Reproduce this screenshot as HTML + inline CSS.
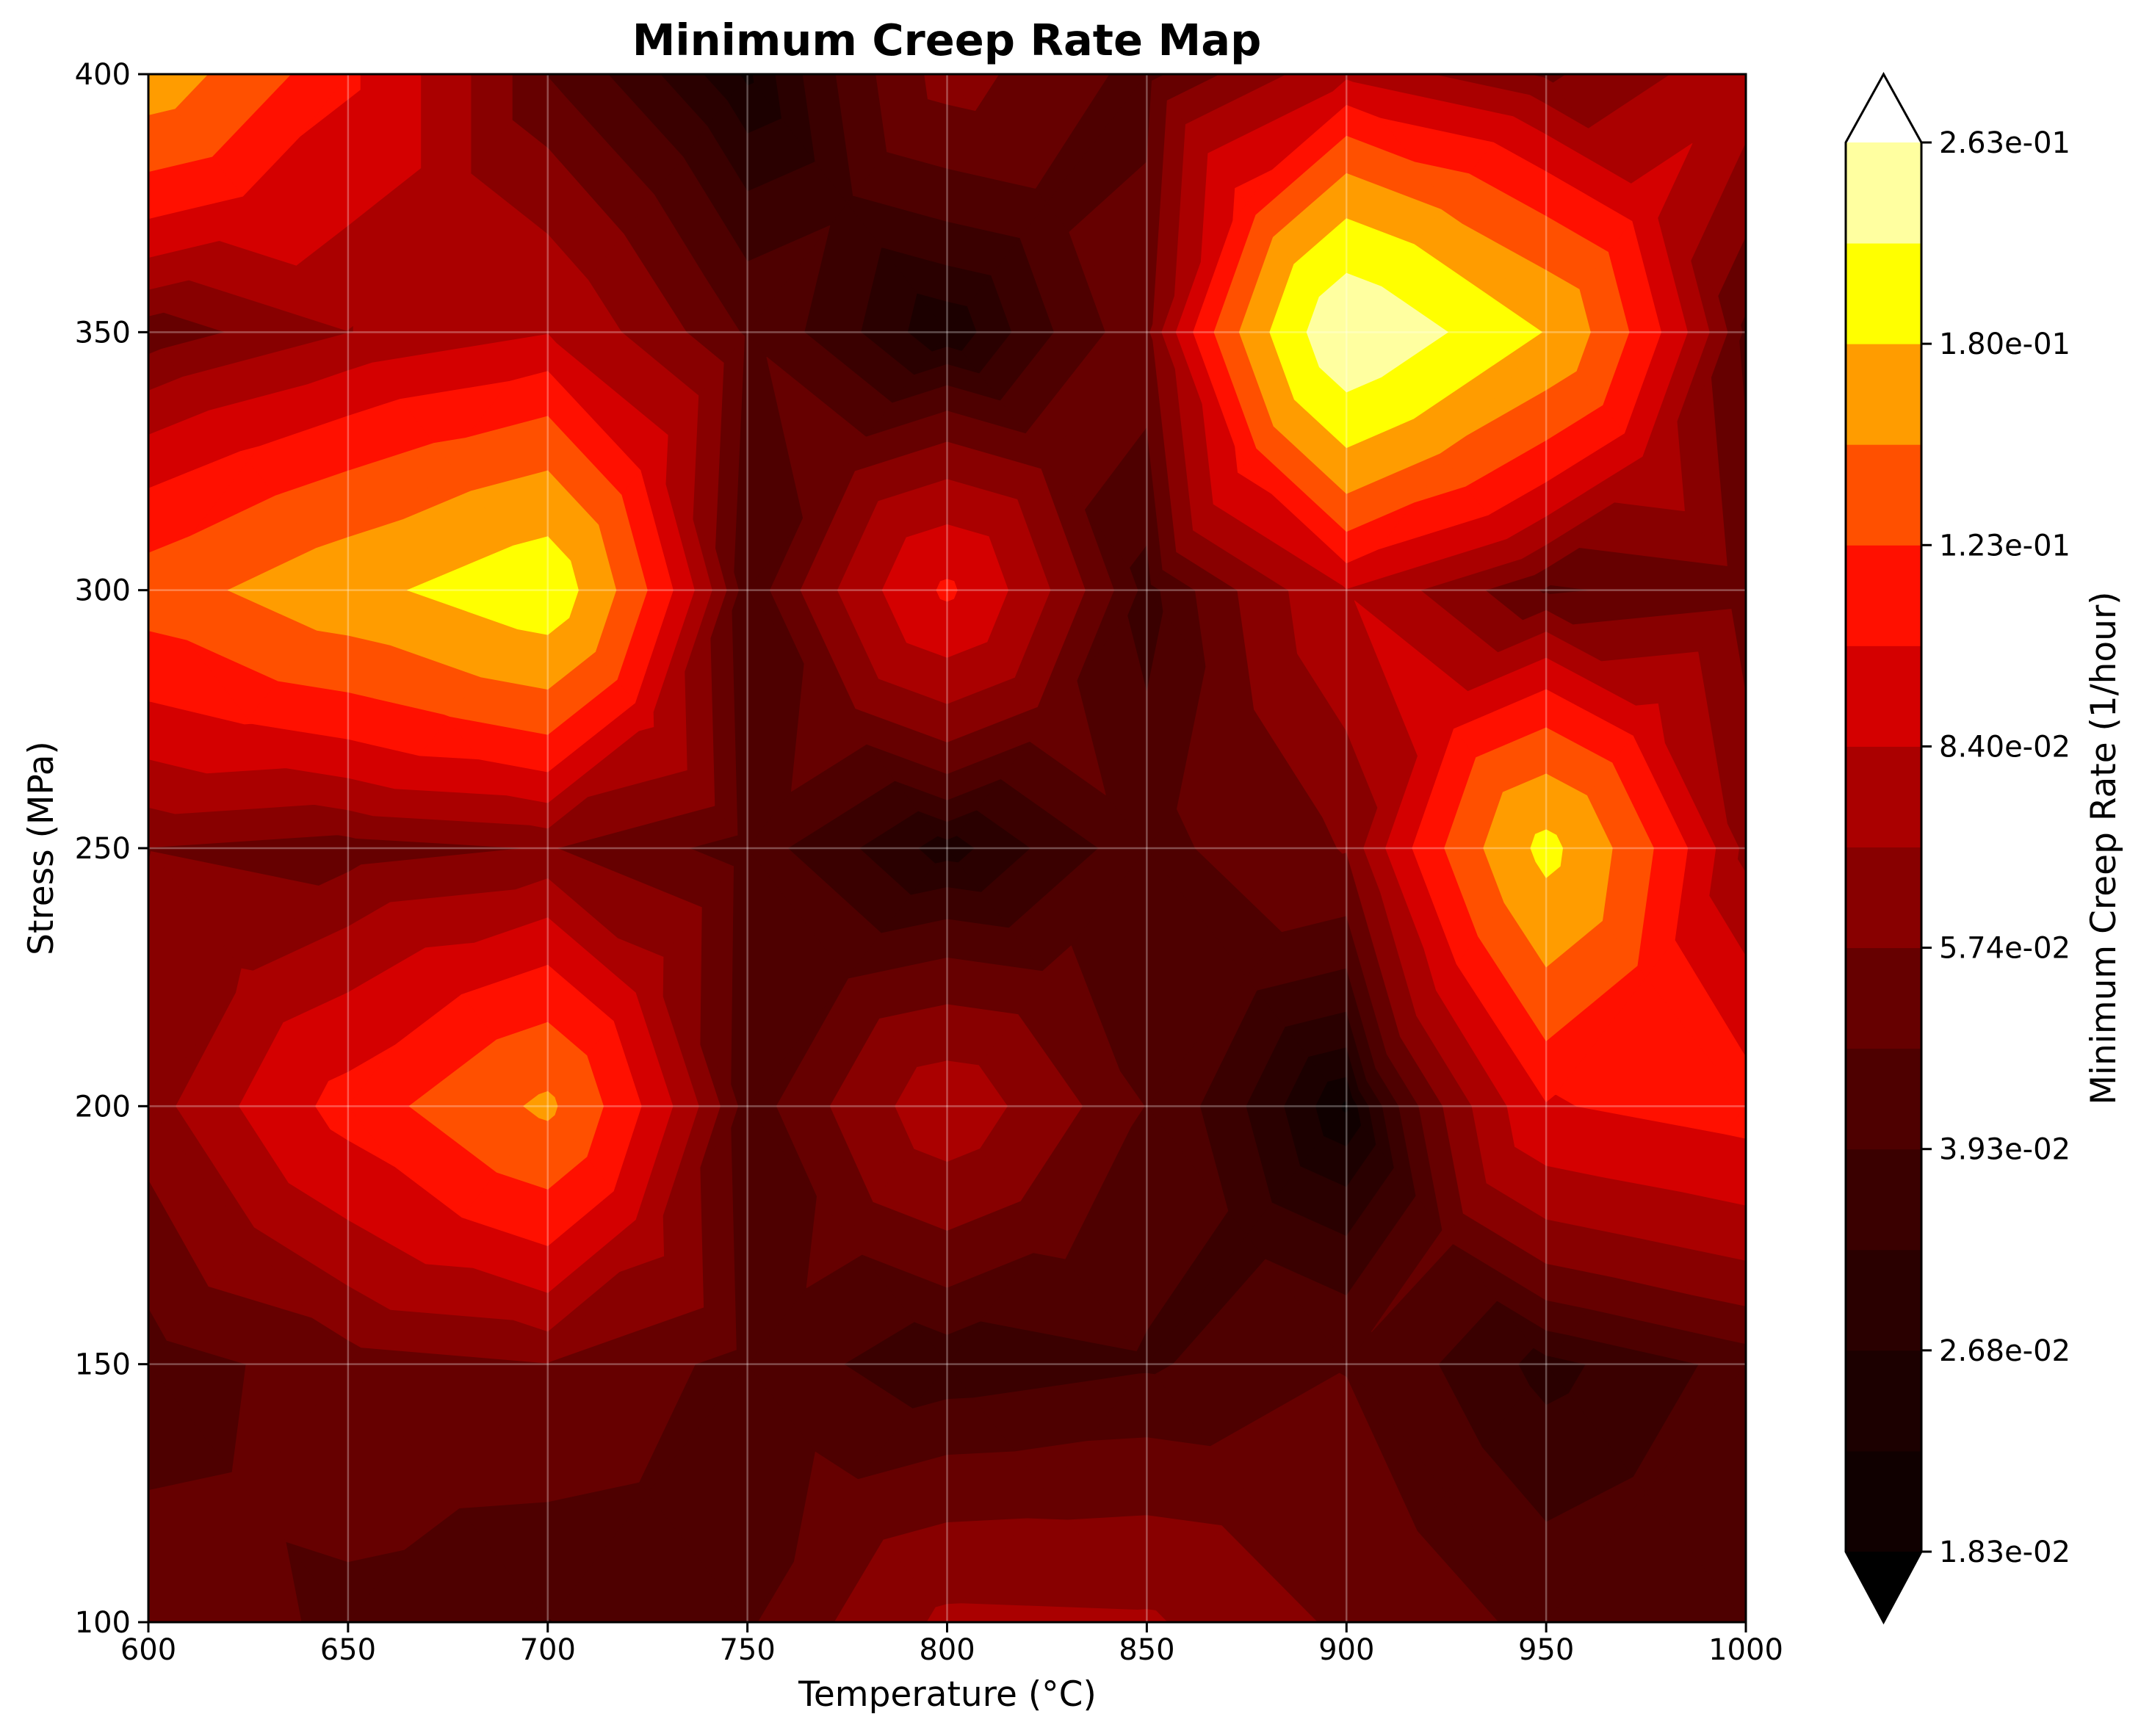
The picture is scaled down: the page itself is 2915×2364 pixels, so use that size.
<!DOCTYPE html>
<html><head><meta charset="utf-8"><style>
html,body{margin:0;padding:0;background:#fff;}
svg{display:block;font-family:"DejaVu Sans","Liberation Sans",sans-serif;}
</style></head><body>
<svg id="chart" width="2915" height="2364" viewBox="0 0 2915 2364" xmlns="http://www.w3.org/2000/svg">
<rect width="2915" height="2364" fill="#fff"/>
<text x="1289" y="75" text-anchor="middle" font-size="59" font-weight="bold">Minimum Creep Rate Map</text>
<g id="plot"></g>
<g id="grid"></g>
<rect x="202" y="101" width="2175" height="2108" fill="none" stroke="#000" stroke-width="3"/>
<g id="axes"></g>
<text x="1290" y="2323" text-anchor="middle" font-size="47">Temperature (°C)</text>
<text transform="translate(72,1155) rotate(-90)" text-anchor="middle" font-size="47">Stress (MPa)</text>
<g id="cbar"></g>
<text transform="translate(2880,1155) rotate(-90)" text-anchor="middle" font-size="47">Minimum Creep Rate (1/hour)</text>
</svg>
<script>
const temps = [600,650,700,750,800,850,900,950,1000];
const stresses = [100,150,200,250,300,350,400];
const rate_100 = [0.052,0.046,0.039,0.046,0.072,0.071,0.055,0.045,0.045];
const rate_150 = [0.043,0.052,0.057,0.044,0.034,0.038,0.047,0.030,0.042];
const rate_200 = [0.063,0.109,0.154,0.042,0.079,0.047,0.0175,0.100,0.110];
const rate_250 = [0.057,0.052,0.058,0.043,0.024,0.044,0.058,0.190,0.065];
const rate_300 = [0.135,0.169,0.205,0.040,0.105,0.036,0.083,0.046,0.052];
const rate_350 = [0.050,0.069,0.083,0.046,0.022,0.054,0.258,0.178,0.045];
const rate_400 = [0.167,0.105,0.047,0.021,0.062,0.044,0.080,0.055,0.078];
const levelMin = 0.0183, levelMax = 0.263, nLevels = 15;
const cbTickLabels = ["1.83e-02","2.68e-02","3.93e-02","5.74e-02","8.40e-02","1.23e-01","1.80e-01","2.63e-01"];
const bandColors = ["#100000","#1c0000","#2a0000","#3a0000","#4e0000","#660000","#880000","#aa0000","#d40000","#ff1000","#ff5000","#ff9c00","#ffff00","#ffffa0"];
const underColor = "#080000", overColor = "#ffffff";

const NS="http://www.w3.org/2000/svg";
const rows=[rate_100,rate_150,rate_200,rate_250,rate_300,rate_350,rate_400];
const X0=202,X1=2377,Y0=2209,Y1=101;
const xs=t=>X0+(t-600)/(1000-600)*(X1-X0);
const ys=s=>Y0+(s-100)/(400-100)*(Y1-Y0);
const levels=[];for(let i=0;i<nLevels;i++)levels.push(levelMin*Math.pow(levelMax/levelMin,i/(nLevels-1)));

function el(tag,attrs,parent){const e=document.createElementNS(NS,tag);for(const k in attrs)e.setAttribute(k,attrs[k]);parent.appendChild(e);return e;}

function clip(poly,lv,keepAbove){
  const out=[];
  for(let i=0;i<poly.length;i++){
    const a=poly[i],b=poly[(i+1)%poly.length];
    const ain=keepAbove?a[2]>=lv:a[2]<lv, bin=keepAbove?b[2]>=lv:b[2]<lv;
    if(ain)out.push(a);
    if(ain!==bin){const t=(lv-a[2])/(b[2]-a[2]);out.push([a[0]+t*(b[0]-a[0]),a[1]+t*(b[1]-a[1]),lv]);}
  }
  return out;
}
const plot=document.getElementById('plot');
const bandPaths=[];for(let b=0;b<=14+1;b++)bandPaths.push("");
for(let j=0;j<stresses.length-1;j++){
  for(let i=0;i<temps.length-1;i++){
    const p=[[xs(temps[i]),ys(stresses[j]),rows[j][i]],[xs(temps[i+1]),ys(stresses[j]),rows[j][i+1]],[xs(temps[i+1]),ys(stresses[j+1]),rows[j+1][i+1]],[xs(temps[i]),ys(stresses[j+1]),rows[j+1][i]]];
    const c=[(p[0][0]+p[1][0])/2,(p[0][1]+p[2][1])/2,(p[0][2]+p[1][2]+p[2][2]+p[3][2])/4];
    for(let k=0;k<4;k++){
      const tri=[p[k],p[(k+1)%4],c];
      for(let b=-1;b<levels.length;b++){
        let poly=tri;
        if(b>=0)poly=clip(poly,levels[b],true);
        if(poly.length<3)continue;
        if(b<levels.length-1)poly=clip(poly,levels[b+1],false);
        if(poly.length<3)continue;
        bandPaths[b+1]+="M"+poly.map(q=>q[0].toFixed(1)+","+q[1].toFixed(1)).join("L")+"Z";
      }
    }
  }
}
for(let b=0;b<bandPaths.length;b++){
  if(!bandPaths[b])continue;
  const col=b===0?underColor:(b===bandPaths.length-1?overColor:bandColors[b-1]);
  const e=el('path',{d:bandPaths[b],fill:col,stroke:col,'stroke-width':'1','stroke-linejoin':'round'},plot);
  
  
}
const grid=document.getElementById('grid');
temps.forEach(t=>{if(t>600&&t<1000){const l=el('line',{x1:xs(t),x2:xs(t),y1:Y1,y2:Y0,stroke:'#fff','stroke-opacity':'0.3','stroke-width':'2.5'},grid);}});
stresses.forEach(s=>{if(s>100&&s<400){const l=el('line',{x1:X0,x2:X1,y1:ys(s),y2:ys(s),stroke:'#fff','stroke-opacity':'0.3','stroke-width':'2.5'},grid);}});
const axes=document.getElementById('axes');
temps.forEach(t=>{
  el('line',{x1:xs(t),x2:xs(t),y1:Y0,y2:Y0+14,stroke:'#000','stroke-width':'3'},axes);
  const tx=el('text',{x:xs(t),y:2260,'text-anchor':'middle','font-size':'40'},axes);tx.textContent=t;
  
  
});
stresses.forEach(s=>{
  el('line',{x1:X0-14,x2:X0,y1:ys(s),y2:ys(s),stroke:'#000','stroke-width':'3'},axes);
  const tx=el('text',{x:X0-24,y:ys(s)+14,'text-anchor':'end','font-size':'40'},axes);tx.textContent=s;
  
  
});
const cb=document.getElementById('cbar');
const CX0=2513,CX1=2616,CT=194,CB=2113,CTip=101,CBTip=2209;
const bh=(CB-CT)/bandColors.length;
bandColors.forEach((c,i)=>{const r=el('rect',{x:CX0,y:CB-(i+1)*bh,width:CX1-CX0,height:bh+0.5,fill:c},cb);});
el('polygon',{points:`${CX0},${CT} ${(CX0+CX1)/2},${CTip} ${CX1},${CT}`,fill:overColor},cb);
el('polygon',{points:`${CX0},${CB} ${(CX0+CX1)/2},${CBTip} ${CX1},${CB}`,fill:'#000'},cb);
el('polygon',{points:`${CX0},${CT} ${(CX0+CX1)/2},${CTip} ${CX1},${CT} ${CX1},${CB} ${(CX0+CX1)/2},${CBTip} ${CX0},${CB}`,fill:'none',stroke:'#000','stroke-width':'3'},cb);
cbTickLabels.forEach((lab,k)=>{
  const y=CB-k*2*bh;
  el('line',{x1:CX1,x2:CX1+14,y1:y,y2:y,stroke:'#000','stroke-width':'3'},cb);
  const tx=el('text',{x:CX1+24,y:y+14,'font-size':'40'},cb);tx.textContent=lab;
  
  
});
</script>
</body></html>
